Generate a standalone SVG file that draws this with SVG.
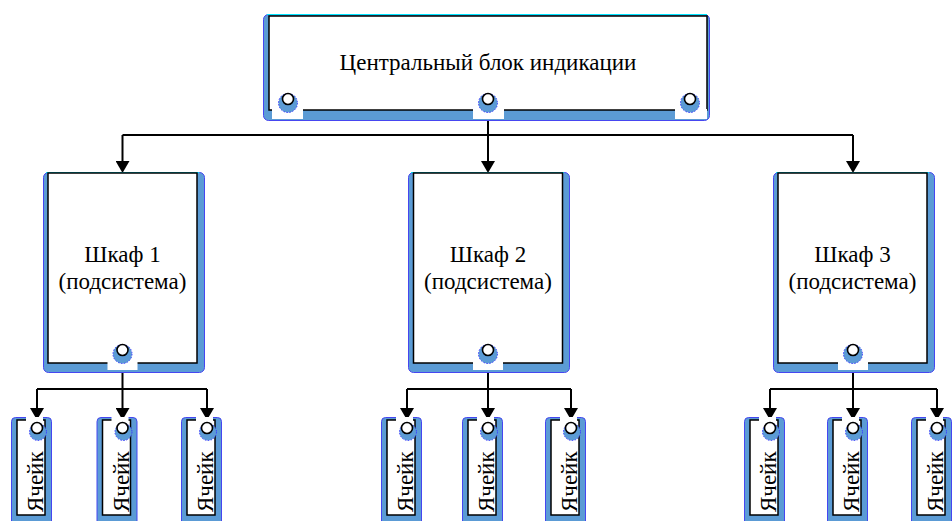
<svg xmlns="http://www.w3.org/2000/svg" width="952" height="521" viewBox="0 0 952 521">
  <style>
    .frame{fill:#5b9bd5;stroke:#4646f0;stroke-width:1}
    .rim{stroke:#00e5ff;stroke-width:1.2}
    .face{fill:#fff;stroke:#000;stroke-width:1.5}
    .notch{fill:#fff}
    .port-base{fill:#5b9bd5;stroke:#3a3aff;stroke-width:1;stroke-dasharray:1.5 1.5}
    .port-hole{fill:#fff;stroke:#000;stroke-width:1.6}
    .wire{fill:none;stroke:#000;stroke-width:2}
    text{font-family:"Liberation Serif","Times New Roman","DejaVu Serif",serif;font-size:23px;fill:#000}
  </style>
  <defs>
    <marker id="arrow" viewBox="0 -7 12 14" refX="0" refY="0" markerWidth="12" markerHeight="14" markerUnits="userSpaceOnUse" orient="auto">
      <path d="M0,-7 L12,0 L0,7 z" fill="#000"/>
    </marker>
    <!-- port: blue socket with a small ring on top -->
    <g id="port">
      <circle class="port-base" cx="0" cy="4" r="9.5"/>
      <circle class="port-hole" cx="0" cy="0" r="5.5"/>
    </g>
    <g id="cell-port">
      <circle class="port-base" cx="1" cy="4" r="8.5"/>
      <circle class="port-hole" cx="0" cy="0" r="5.5"/>
    </g>
  </defs>

  <!-- connectors -->
  <g id="connectors">
    <path class="wire" d="M488,120 V135 M122.5,135 H853"/>
    <path class="wire" d="M122.5,135 V161" marker-end="url(#arrow)"/>
    <path class="wire" d="M488,135 V161" marker-end="url(#arrow)"/>
    <path class="wire" d="M853,135 V161" marker-end="url(#arrow)"/>

    <path class="wire" d="M122.5,372 V389 M37,389 H207"/>
    <path class="wire" d="M37,389 V408" marker-end="url(#arrow)"/>
    <path class="wire" d="M122.5,389 V408" marker-end="url(#arrow)"/>
    <path class="wire" d="M207,389 V408" marker-end="url(#arrow)"/>

    <path class="wire" d="M488,372 V389 M407,389 H571"/>
    <path class="wire" d="M407,389 V408" marker-end="url(#arrow)"/>
    <path class="wire" d="M488,389 V408" marker-end="url(#arrow)"/>
    <path class="wire" d="M571,389 V408" marker-end="url(#arrow)"/>

    <path class="wire" d="M853,372 V389 M770,389 H937"/>
    <path class="wire" d="M770,389 V408" marker-end="url(#arrow)"/>
    <path class="wire" d="M853,389 V408" marker-end="url(#arrow)"/>
    <path class="wire" d="M937,389 V408" marker-end="url(#arrow)"/>
  </g>

  <!-- central unit -->
  <g id="central">
    <rect class="frame" x="263.5" y="14.5" width="446" height="106" rx="5"/>
    <line class="rim" x1="267" y1="14.5" x2="707" y2="14.5"/>
    <rect class="face" x="269" y="16" width="438" height="94"/>
    <rect class="notch" x="272" y="109" width="31" height="10"/>
    <rect class="notch" x="473" y="109" width="31" height="10"/>
    <rect class="notch" x="675" y="109" width="32" height="10"/>
    <use href="#port" x="288" y="99"/>
    <use href="#port" x="488" y="99"/>
    <use href="#port" x="690" y="99"/>
    <text x="488" y="70" text-anchor="middle">Центральный блок индикации</text>
  </g>

  <!-- cabinets -->
  <g id="cabinet1">
    <rect class="frame" x="43.5" y="172.5" width="161" height="200" rx="5"/>
    <line class="rim" x1="46" y1="172.5" x2="199" y2="172.5"/>
    <rect class="face" x="48" y="173" width="149" height="190"/>
    <rect class="notch" x="107.5" y="362" width="30" height="8"/>
    <use href="#port" x="122.5" y="350"/>
    <text x="122.5" y="262" text-anchor="middle">Шкаф 1</text>
    <text x="122.5" y="289" text-anchor="middle">(подсистема)</text>
  </g>
  <g id="cabinet2">
    <rect class="frame" x="408.5" y="172.5" width="161" height="200" rx="5"/>
    <line class="rim" x1="411" y1="172.5" x2="564" y2="172.5"/>
    <rect class="face" x="413.5" y="173" width="149" height="190"/>
    <rect class="notch" x="473" y="362" width="30" height="8"/>
    <use href="#port" x="488" y="350"/>
    <text x="488" y="262" text-anchor="middle">Шкаф 2</text>
    <text x="488" y="289" text-anchor="middle">(подсистема)</text>
  </g>
  <g id="cabinet3">
    <rect class="frame" x="773.5" y="172.5" width="161" height="200" rx="5"/>
    <line class="rim" x1="776" y1="172.5" x2="929" y2="172.5"/>
    <rect class="face" x="778" y="173" width="149" height="190"/>
    <rect class="notch" x="838" y="362" width="30" height="8"/>
    <use href="#port" x="853" y="350"/>
    <text x="852.5" y="262" text-anchor="middle">Шкаф 3</text>
    <text x="852.5" y="289" text-anchor="middle">(подсистема)</text>
  </g>

  <!-- cells -->
  <g id="cell1">
    <rect class="frame" x="11.5" y="417.5" width="40" height="110" rx="4"/>
    <rect class="face" x="17" y="420" width="28" height="95"/>
    <rect class="notch" x="26" y="417" width="17" height="5"/>
    <use href="#cell-port" x="37" y="428"/>
    <text transform="translate(43,512) rotate(-90)">Ячейк</text>
  </g>
  <g id="cell2">
    <rect class="frame" x="97" y="417.5" width="40" height="110" rx="4"/>
    <rect class="face" x="102.5" y="420" width="28" height="95"/>
    <rect class="notch" x="111.5" y="417" width="17" height="5"/>
    <use href="#cell-port" x="122.5" y="428"/>
    <text transform="translate(128.5,512) rotate(-90)">Ячейк</text>
  </g>
  <g id="cell3">
    <rect class="frame" x="181.5" y="417.5" width="40" height="110" rx="4"/>
    <rect class="face" x="187" y="420" width="28" height="95"/>
    <rect class="notch" x="196" y="417" width="17" height="5"/>
    <use href="#cell-port" x="207" y="428"/>
    <text transform="translate(213,512) rotate(-90)">Ячейк</text>
  </g>
  <g id="cell4">
    <rect class="frame" x="381.5" y="417.5" width="40" height="110" rx="4"/>
    <rect class="face" x="387" y="420" width="28" height="95"/>
    <rect class="notch" x="396" y="417" width="17" height="5"/>
    <use href="#cell-port" x="407" y="428"/>
    <text transform="translate(413,512) rotate(-90)">Ячейк</text>
  </g>
  <g id="cell5">
    <rect class="frame" x="462.5" y="417.5" width="40" height="110" rx="4"/>
    <rect class="face" x="468" y="420" width="28" height="95"/>
    <rect class="notch" x="477" y="417" width="17" height="5"/>
    <use href="#cell-port" x="488" y="428"/>
    <text transform="translate(494,512) rotate(-90)">Ячейк</text>
  </g>
  <g id="cell6">
    <rect class="frame" x="545.5" y="417.5" width="40" height="110" rx="4"/>
    <rect class="face" x="551" y="420" width="28" height="95"/>
    <rect class="notch" x="560" y="417" width="17" height="5"/>
    <use href="#cell-port" x="571" y="428"/>
    <text transform="translate(577,512) rotate(-90)">Ячейк</text>
  </g>
  <g id="cell7">
    <rect class="frame" x="744.5" y="417.5" width="40" height="110" rx="4"/>
    <rect class="face" x="750" y="420" width="28" height="95"/>
    <rect class="notch" x="759" y="417" width="17" height="5"/>
    <use href="#cell-port" x="770" y="428"/>
    <text transform="translate(776,512) rotate(-90)">Ячейк</text>
  </g>
  <g id="cell8">
    <rect class="frame" x="827.5" y="417.5" width="40" height="110" rx="4"/>
    <rect class="face" x="833" y="420" width="28" height="95"/>
    <rect class="notch" x="842" y="417" width="17" height="5"/>
    <use href="#cell-port" x="853" y="428"/>
    <text transform="translate(859,512) rotate(-90)">Ячейк</text>
  </g>
  <g id="cell9">
    <rect class="frame" x="911.5" y="417.5" width="40" height="110" rx="4"/>
    <rect class="face" x="917" y="420" width="28" height="95"/>
    <rect class="notch" x="926" y="417" width="17" height="5"/>
    <use href="#cell-port" x="937" y="428"/>
    <text transform="translate(943,512) rotate(-90)">Ячейк</text>
  </g>
</svg>
